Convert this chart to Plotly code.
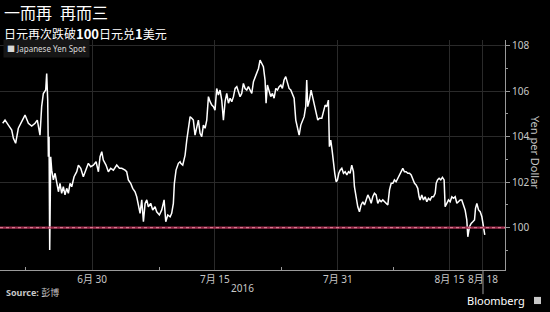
import plotly.graph_objects as go

# ---- data (x = trading days since 2016-06-30 00:00, weekends removed) ----
june_days = [-8.00,-7.79,-7.49,-7.19,-7.04,-6.84,-6.60,-6.30,-6.00,-5.70,
             -5.40,-5.10,-4.90,-4.66,-4.51,-4.36,-4.15,-4.06,-3.97,-3.91,
             -3.85,-3.79,-3.70,-3.61,-3.46,-3.31,-3.16,-3.01,-2.87,-2.72,
             -2.57,-2.42,-2.27,-2.12,-1.97,-1.82,-1.61,-1.37,-1.22,-1.01,
             -0.78,-0.54,-0.33,-0.12,0.12,0.36,0.57,0.72,0.87,1.01,
             1.25,1.46,1.67,1.91,2.21,2.45,2.66,2.96,3.10,3.25,
             3.46,3.64,3.85,4.00,4.15,4.30,4.45,4.60,4.75,4.90,
             5.04,5.25,5.43,5.64,5.79,6.03,6.24,6.45,6.60,6.78,
             6.99,7.13,7.28,7.37,7.52,7.73,7.88]
june_yen = [104.59,104.73,104.51,104.29,103.93,103.71,104.37,104.66,104.95,104.59,
            104.47,104.59,104.73,104.07,105.32,105.90,106.05,106.78,105.61,103.12,
            104.00,99.02,103.12,102.53,102.10,102.39,101.95,101.58,101.95,101.51,
            101.80,101.44,101.73,101.51,101.95,101.80,102.24,102.46,102.75,102.61,
            102.24,102.61,102.83,102.68,102.75,102.90,102.46,103.12,103.34,102.97,
            102.75,102.46,102.61,102.53,102.75,102.61,102.61,102.53,102.46,102.10,
            101.95,101.73,101.58,101.36,101.00,100.63,101.22,100.26,101.07,101.22,
            100.92,101.07,100.78,100.92,100.70,100.56,100.78,101.22,100.26,100.56,
            100.48,100.63,101.07,101.95,102.53,102.83,102.90]

july_days = [7.94,8.12,8.33,8.48,8.63,8.78,8.93,9.07,9.22,9.37,
             9.52,9.67,9.82,9.97,10.12,10.27,10.42,10.57,10.72,10.87,
             11.01,11.16,11.31,11.46,11.61,11.76,11.91,12.06,12.21,12.36,
             12.51,12.66,12.81,12.96,13.10,13.25,13.40,13.55,13.70,13.85,
             14.00,14.15,14.30,14.45,14.60,14.75,14.90,15.04,15.19,15.34,
             15.49,15.58,15.70,15.85,16.00,16.15,16.30,16.45,16.60,16.75,
             16.90,17.04,17.19,17.34,17.49,17.64,17.79,17.94,18.09,18.24,
             18.39,18.54,18.69,18.84,18.99,19.13,19.22,19.31,19.46,19.61,
             19.76,19.91,20.06,20.21,20.36]
july_yen = [102.83,102.75,103.19,103.85,104.29,104.88,104.81,104.73,104.07,104.44,
            104.73,104.15,104.00,104.51,104.37,104.73,105.76,105.54,105.39,105.32,
            105.17,106.12,105.83,106.05,105.61,104.73,105.54,105.90,105.47,105.69,
            105.54,105.76,106.12,106.20,105.98,105.76,105.90,106.34,106.12,106.05,
            106.20,106.05,105.90,106.42,106.64,106.78,107.00,107.37,107.22,107.08,
            106.49,105.47,106.27,106.05,105.76,105.90,105.69,106.12,106.05,106.20,
            106.27,106.12,106.49,106.64,106.34,106.12,106.05,105.90,105.69,104.73,
            104.37,104.07,104.51,104.73,104.88,105.32,106.49,105.32,105.61,106.05,
            105.69,105.47,105.10,104.73,104.81]

aug_days = [20.57,20.72,20.87,21.01,21.16,21.25,21.37,21.49,21.61,21.73,
            21.85,21.97,22.09,22.21,22.36,22.51,22.66,22.81,22.96,23.10,
            23.25,23.40,23.49,23.64,23.79,23.94,24.09,24.24,24.39,24.54,
            24.69,24.84,24.99,25.13,25.28,25.43,25.58,25.73,25.88,26.03,
            26.18,26.33,26.48,26.63,26.78,26.93,27.07,27.22,27.37,27.52,
            27.67,27.82,27.97,28.12,28.27,28.42,28.57,28.72,28.87,29.01,
            29.16,29.28,29.37,29.52,29.67,29.82,29.97,30.12,30.27,30.42,
            30.57,30.72,30.81,30.93,31.07,31.22,31.37,31.52,31.61,31.76,
            31.91,32.06,32.21,32.36,32.51,32.66,32.81,32.96,33.10,33.25,
            33.40,33.55,33.64,33.79,33.94,34.09,34.24,34.33,34.45,34.60,
            34.75,34.90,35.04,35.16]
aug_yen = [104.81,105.10,105.39,105.32,105.61,103.56,103.85,103.41,102.83,102.39,
           102.02,102.10,102.39,102.53,102.61,102.39,102.46,102.32,102.46,102.39,
           102.75,102.46,101.80,101.36,100.92,100.70,101.00,101.14,101.00,101.22,
           101.44,101.29,101.07,101.36,101.51,101.44,101.07,101.22,101.14,101.22,
           101.14,101.07,101.00,101.66,101.95,101.95,102.10,102.02,102.17,102.32,
           102.53,102.61,102.46,102.46,102.39,102.39,102.32,102.10,101.95,101.88,
           101.73,101.36,101.22,101.44,101.22,101.36,101.14,101.29,101.22,101.36,
           101.36,101.51,101.95,102.10,102.17,102.10,102.21,102.10,100.92,101.07,
           101.22,101.14,101.36,101.29,101.36,101.07,101.14,101.22,101.22,101.00,
           100.78,100.34,99.60,100.04,100.19,100.26,100.34,100.85,101.07,100.78,
           100.70,100.48,100.04,99.68]

tick_days = [0, 11, 22, 32, 35]
tick_labels = ["6月 30", "7月 15", "7月 31", "8月 15", "8月 18"]
minor_days = [-6, 6, 17, 27]
y_ticks = [100, 102, 104, 106, 108]
y_minor = [99, 101, 103, 105, 107]
threshold = 100

X_RANGE = [-8.24, 36.97]
Y_RANGE = [98.14, 108.25]

days = june_days + july_days + aug_days
yen = june_yen + july_yen + aug_yen

FONT = "Noto Sans, Noto Sans CJK SC, sans-serif"
CJK = "Noto Sans CJK SC, sans-serif"
GRID = "#2a2a2a"
AXIS = "#9a9a9a"
TXT = "#c8c8c8"

fig = go.Figure()
fig.add_trace(go.Scatter(x=days, y=yen, mode="lines",
                         line=dict(color="white", width=1.5),
                         showlegend=False, hoverinfo="skip"))

# 100 threshold line (red-pink with lighter dots)
fig.add_shape(type="line", xref="paper", x0=0, x1=1, yref="y", y0=threshold, y1=threshold,
              line=dict(color="#9c2c4c", width=2.2))
fig.add_shape(type="line", xref="paper", x0=0, x1=1, yref="y", y0=threshold, y1=threshold,
              line=dict(color="#e8899f", width=1, dash="dot"))

# long marker tick under last date
last_frac = (tick_days[-1] - X_RANGE[0]) / (X_RANGE[1] - X_RANGE[0])
fig.add_shape(type="line", xref="paper", x0=last_frac, x1=last_frac, yref="paper",
              y0=0, y1=-0.105, line=dict(color=AXIS, width=1))

# Bloomberg icon
fig.add_shape(type="rect", xref="paper", yref="paper", x0=1.0574, x1=1.0713,
              y0=-0.148, y1=-0.117, fillcolor="#c8c8c8", line=dict(width=0))

fig.update_layout(
    width=550, height=312,
    margin=dict(l=0, r=45, t=40, b=42),
    paper_bgcolor="black", plot_bgcolor="black",
    font=dict(family=FONT, color=TXT, size=10),
    showlegend=False,
    xaxis=dict(range=X_RANGE, tickmode="array", tickvals=tick_days, ticktext=tick_labels,
               tickangle=0, showgrid=True, gridcolor=GRID, gridwidth=1,
               showline=True, linecolor=AXIS, linewidth=1, ticks="", zeroline=False,
               tickfont=dict(family=FONT, size=10, color=TXT),
               minor=dict(tickmode="array", tickvals=minor_days, ticks="inside",
                          ticklen=3, tickcolor=AXIS, showgrid=False)),
    yaxis=dict(range=Y_RANGE, side="right", tickmode="array", tickvals=y_ticks,
               showgrid=True, gridcolor=GRID, gridwidth=1,
               showline=True, linecolor=AXIS, linewidth=1, zeroline=False,
               ticks="outside", ticklen=4, tickcolor=AXIS,
               tickfont=dict(family=FONT, size=10, color=TXT),
               minor=dict(tickmode="array", tickvals=y_minor, ticks="outside",
                          ticklen=2, tickcolor=AXIS, showgrid=False)),
    annotations=[
        dict(text="一而再\u2002再而三", xref="paper", yref="paper", x=0.004, y=1.1217,
             xanchor="left", yanchor="middle", showarrow=False,
             font=dict(family=CJK, size=16, color="white")),
        dict(text="日元再次跌破<b><span style='font-size:13px'>100</span></b>日元兑<b><span style='font-size:13px'>1</span></b>美元",
             xref="paper", yref="paper", x=0.004, y=1.0304,
             xanchor="left", yanchor="middle", showarrow=False,
             font=dict(family=CJK, size=12, color="white")),
        dict(text="<span style='font-size:8px'>■</span> Japanese Yen Spot",
             xref="paper", yref="paper", x=0.006, y=0.961, xanchor="left", yanchor="middle",
             showarrow=False, bgcolor="#161616", borderpad=3,
             font=dict(family=FONT, size=8, color="#d8d8d8")),
        dict(text="Yen per Dollar", textangle=90, xref="paper", yref="paper",
             x=1.0594, y=0.509, xanchor="center", yanchor="middle", showarrow=False,
             font=dict(family=FONT, size=11, color=TXT)),
        dict(text="2016", xref="paper", yref="paper", x=0.481, y=-0.078,
             xanchor="center", yanchor="middle", showarrow=False,
             font=dict(family=FONT, size=10, color=TXT)),
        dict(text="<b>Source:</b> 彭博", xref="paper", yref="paper", x=0.008, y=-0.096,
             xanchor="left", yanchor="middle", showarrow=False,
             font=dict(family=FONT, size=9, color=TXT)),
        dict(text="Bloomberg", xref="paper", yref="paper", x=1.044, y=-0.133,
             xanchor="right", yanchor="middle", showarrow=False,
             font=dict(family=FONT, size=11, color="white")),
    ],
)

fig.write_html("out.html")
